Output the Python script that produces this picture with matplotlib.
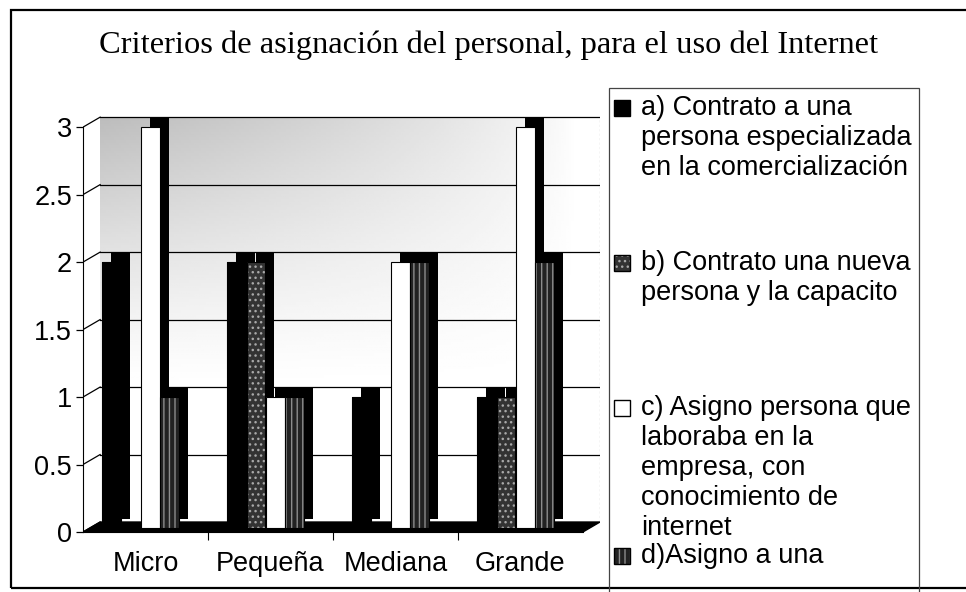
import numpy as np
import matplotlib
matplotlib.use("Agg")
import matplotlib.pyplot as plt
from matplotlib.patches import Rectangle

W, H = 966, 592

categories = ["Micro", "Pequeña", "Mediana", "Grande"]
serie_a = [2, 2, 1, 1]
serie_b = [0, 2, 0, 1]
serie_c = [3, 1, 2, 3]
serie_d = [1, 1, 2, 2]
series = [serie_a, serie_b, serie_c, serie_d]
legend_labels = [
    "a) Contrato a una\npersona especializada\nen la comercialización",
    "b) Contrato una nueva\npersona y la capacito",
    "c) Asigno persona que\nlaboraba en la\nempresa, con\nconocimiento de\ninternet",
    "d)Asigno a una",
]
yticks = [0, 0.5, 1, 1.5, 2, 2.5, 3]
ytick_labels = ["0", "0.5", "1", "1.5", "2", "2.5", "3"]

# estilos de cada serie (cara frontal)
faces = ["black", "#333333", "white", "#222222"]
hatches = [None, "...", None, "|||"]
hatch_cols = ["black", "#a8a8a8", "black", "#8c8c8c"]

SANS = "Liberation Sans"
SERIF = "Liberation Serif"
FS = 19.5


def fx(x):
    return x / W


def fy(y):
    return 1 - y / H


fig = plt.figure(figsize=(W / 100, H / 100), dpi=100)
fig.patch.set_facecolor("white")

# marco exterior
fig.add_artist(Rectangle((fx(11), fy(588)), fx(980) - fx(11), fy(10) - fy(588),
                         transform=fig.transFigure, fill=False, lw=1.6, ec="black"))

fig.text(fx(489), fy(45), "Criterios de asignación del personal, para el uso del Internet",
         ha="center", va="center", family=SERIF, fontsize=23.4)

wdx, wdy = 0.137, 0.074   # profundidad de la pared
ax = fig.add_axes([fx(83), fy(532), fx(600) - fx(83), fy(115) - fy(532)])
ax.set_xlim(-0.5, 3.5 + wdx)
ax.set_ylim(0, 3.09)
ax.patch.set_alpha(0)

# pared de fondo con degradado
xx, yy = np.meshgrid(np.linspace(-0.5, 3.5, 200), np.linspace(0, 3, 150))
shade = np.clip((yy - 1.0) / 2.0, 0, 1) ** 1.2 * np.clip(1 - (xx + 0.5) / 3.8, 0, 1) ** 0.7
img = 1 - 0.26 * shade
ax.imshow(img, cmap="gray", vmin=0, vmax=1, origin="lower", aspect="auto",
          extent=[-0.5 + wdx, 3.5 + wdx, wdy, 3 + wdy], zorder=0)

for t in yticks[1:]:
    ax.plot([-0.5 + wdx, 3.5 + wdx], [t + wdy, t + wdy], color="black", lw=0.9, zorder=1)
for t in yticks:
    ax.plot([-0.5, -0.5 + wdx], [t, t + wdy], color="black", lw=0.9, zorder=1)
ax.plot([3.5 + wdx, 3.5 + wdx], [wdy, 3 + wdy], color="#555555", lw=0.8, ls=(0, (2, 2)), zorder=1)

# suelo
ax.fill([-0.5, 3.5, 3.5 + wdx, -0.5 + wdx], [0, 0, wdy, wdy], color="black", zorder=2)

# barras 3D
x = np.arange(len(categories))
offsets = [-0.27, -0.115, 0.04, 0.195]
bw, side, bdy, base = 0.15, 0.072, 0.067, 0.03
for i, vals in enumerate(series):
    vals = np.array(vals, dtype=float)
    m = vals > 0
    xs = x[m] + offsets[i]
    hs = vals[m] - base
    z = 3 + i * 3
    ax.bar(xs + side, hs, bw, bottom=base + bdy, color="black", lw=0, zorder=z)
    ax.bar(xs, hs, bw, bottom=base, color=faces[i], hatch=hatches[i],
           edgecolor=hatch_cols[i], lw=0, zorder=z + 1)
    ax.bar(xs, hs, bw, bottom=base, fill=False, edgecolor="black", lw=0.8, zorder=z + 2)

for s in ["top", "right"]:
    ax.spines[s].set_visible(False)
ax.spines["left"].set_bounds(0, 3)
ax.spines["bottom"].set_bounds(-0.5, 3.5)
ax.spines["left"].set_zorder(20)
ax.set_yticks(yticks)
ax.set_yticklabels(ytick_labels, family=SANS, fontsize=FS)
ax.tick_params(axis="y", direction="out", length=5, width=0.9, pad=3)
ax.set_xticks(x)
ax.set_xticklabels(categories, family=SANS, fontsize=FS)
ax.set_xticks([0.5, 1.5, 2.5], minor=True)
ax.tick_params(axis="x", which="major", length=0, pad=14)
ax.tick_params(axis="x", which="minor", direction="out", length=6, width=0.8)

# leyenda
fig.add_artist(Rectangle((fx(609), fy(600)), fx(919) - fx(609), fy(88) - fy(600),
                         transform=fig.transFigure, fill=False, lw=0.9, ec="#444444"))
entry_y = [108, 263, 408, 556]
for i, lab in enumerate(legend_labels):
    y0 = entry_y[i]
    fig.add_artist(Rectangle((fx(614), fy(y0 + 8)), fx(16), fy(0) - fy(16),
                             transform=fig.transFigure, facecolor=faces[i], hatch=hatches[i],
                             edgecolor=hatch_cols[i], lw=0))
    fig.add_artist(Rectangle((fx(614), fy(y0 + 8)), fx(16), fy(0) - fy(16),
                             transform=fig.transFigure, fill=False, edgecolor="black", lw=1))
    for j, line in enumerate(lab.split("\n")):
        fig.text(fx(641), fy(y0 + 30 * j), line, ha="left", va="center",
                 family=SANS, fontsize=FS)

fig.savefig("out.png", dpi=100)
